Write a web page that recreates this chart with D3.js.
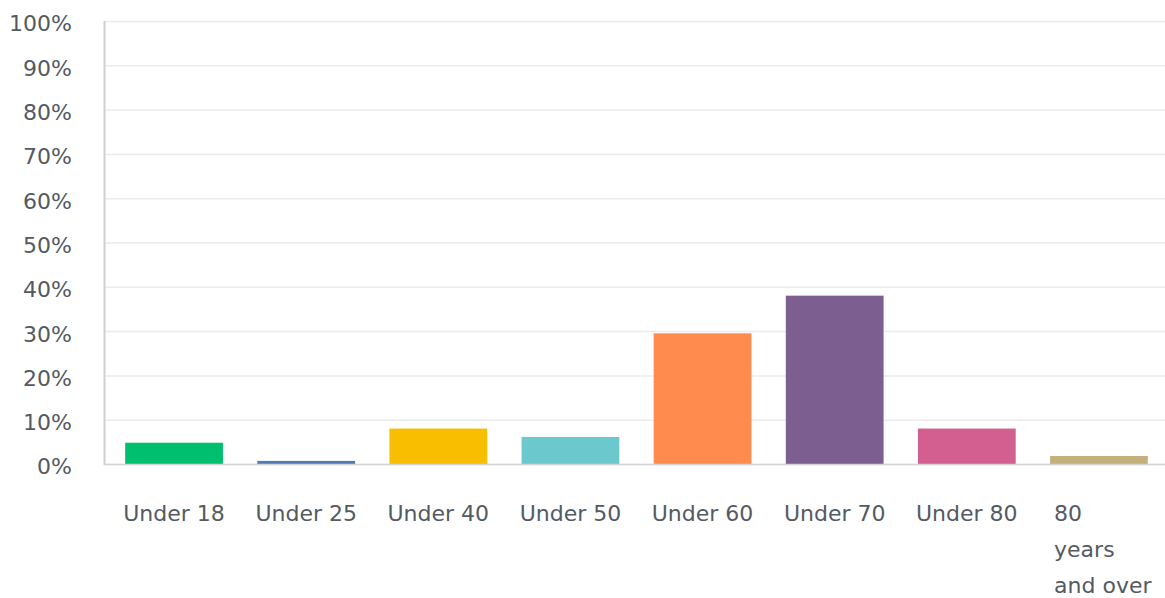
<!DOCTYPE html>
<html>
<head>
<meta charset="utf-8">
<script src="https://cdn.jsdelivr.net/npm/d3@7"></script>
<style>
  html, body { margin: 0; padding: 0; background: #fff; }
  svg text { font-family: "DejaVu Sans", sans-serif; fill: #545a61; }
</style>
</head>
<body>
<svg id="chart" width="1165" height="598"></svg>
<script>
// Age groups and share of respondents (%)
const categories = ["Under 18", "Under 25", "Under 40", "Under 50", "Under 60", "Under 70", "Under 80", "80 years and over"];
const labelLines = [["Under 18"], ["Under 25"], ["Under 40"], ["Under 50"], ["Under 60"], ["Under 70"], ["Under 80"], ["80", "years", "and over"]];
const values = [4.8, 0.7, 8.0, 6.1, 29.5, 38.0, 8.0, 1.8];
const colors = ["#00bf6f", "#507cb6", "#f9be00", "#6bc8cd", "#ff8b4f", "#7d5e90", "#d25f90", "#c4b07b"];
const yTicks = [0, 10, 20, 30, 40, 50, 60, 70, 80, 90, 100];

const svg = d3.select("#chart");
const margin = { left: 105, right: 0, top: 21, bottom: 134 };
const width = 1165, height = 598;

const x = d3.scaleBand()
  .domain(categories)
  .range([margin.left + 3, width - margin.right])
  .paddingInner(0.26)
  .paddingOuter(0.13);

const y = d3.scaleLinear()
  .domain([0, 100])
  .range([height - margin.bottom, margin.top]);

// Horizontal gridlines
svg.append("g")
  .selectAll("line")
  .data(yTicks)
  .join("line")
  .attr("x1", margin.left)
  .attr("x2", width)
  .attr("y1", d => y(d) + 0.5)
  .attr("y2", d => y(d) + 0.5)
  .attr("stroke", "#ebebeb")
  .attr("stroke-width", 1.5);

// Y axis labels
const yAxis = d3.axisLeft(y)
  .tickValues(yTicks)
  .tickFormat(d => d + "%")
  .tickSize(0)
  .tickPadding(33);

svg.append("g")
  .attr("transform", `translate(${margin.left},0)`)
  .call(yAxis)
  .call(g => g.select(".domain").remove())
  .call(g => g.selectAll("text")
    .attr("font-size", 22)
    .attr("dy", "0.45em")
    .style("font-family", "DejaVu Sans, sans-serif")
    .attr("fill", "#545a61"));

// Bars
svg.append("g")
  .selectAll("rect")
  .data(values)
  .join("rect")
  .attr("x", (d, i) => x(categories[i]))
  .attr("width", x.bandwidth())
  .attr("y", d => y(d))
  .attr("height", d => y(0) - y(d))
  .attr("fill", (d, i) => colors[i]);

// Axis lines
svg.append("line")
  .attr("x1", margin.left - 0.5).attr("x2", margin.left - 0.5)
  .attr("y1", y(100)).attr("y2", y(0) + 1)
  .attr("stroke", "#cfcfcf").attr("stroke-width", 2);
svg.append("line")
  .attr("x1", margin.left - 1).attr("x2", width)
  .attr("y1", y(0) + 0.5).attr("y2", y(0) + 0.5)
  .attr("stroke", "#d4d4d4").attr("stroke-width", 1.5);

// Category labels: single lines centred on the band, wrapped labels left-aligned to the bar
const lab = svg.append("g");
categories.forEach((c, i) => {
  const t = lab.append("text")
    .attr("font-size", 22)
    .attr("y", y(0) + 57);
  labelLines[i].forEach((line, j) => {
    t.append("tspan").attr("dy", j === 0 ? 0 : 36).text(line);
  });
  const cx = x(c) + x.bandwidth() / 2;
  if (labelLines[i].length === 1) {
    t.attr("text-anchor", "middle");
    t.selectAll("tspan").attr("x", cx);
  } else {
    t.selectAll("tspan").attr("x", x(c) + 4);
  }
});
</script>
</body>
</html>
